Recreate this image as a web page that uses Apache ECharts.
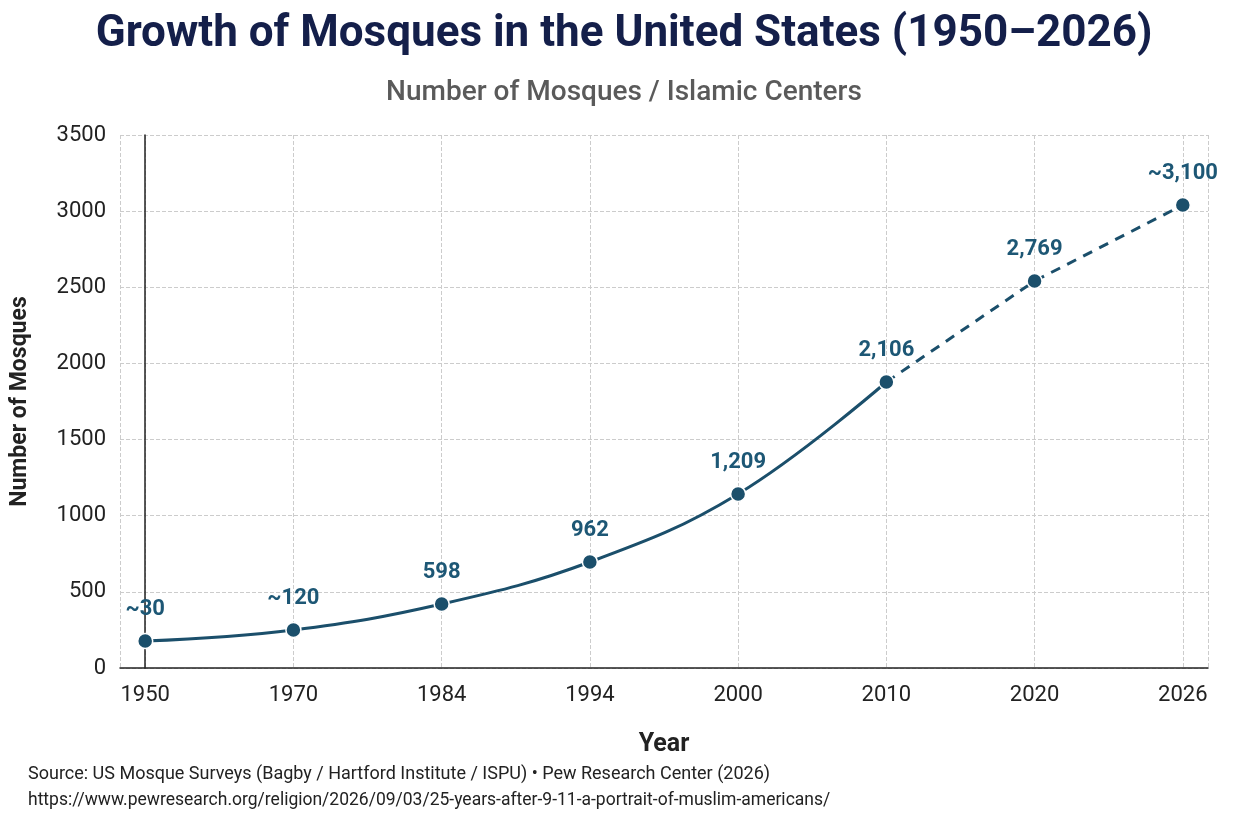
<!DOCTYPE html>
<html>
<head>
<meta charset="utf-8">
<script src="https://cdn.jsdelivr.net/npm/echarts@6/dist/echarts.min.js"></script>
<style>html,body{margin:0;padding:0;background:#fff;}#main{width:1248px;height:832px;}</style>
</head>
<body>
<div id="main"></div>
<script>
var years = ['1950','1970','1984','1994','2000','2010','2020','2026'];
var plotted = [177, 250, 420, 696, 1143, 1878, 2541, 3040];
var pointLabels = ['~30','~120','598','962','1,209','2,106','2,769','~3,100'];
var solidPart = [177, 250, 420, 696, 1143, 1878, null, null];
var dashedPart = [null, null, null, null, null, 1878, 2541, 3040];

function pairs(arr){
	var out = [];
	arr.forEach(function (v, i) { if (v !== null) out.push([i, v]); });
	return out;
}

var lineColor = '#1b4f6b', labelColor = '#1d5775';
var chart = echarts.init(document.getElementById('main'));
chart.setOption({
	animation: false,
	title: [
		{text: 'Growth of Mosques in the United States (1950\u20132026)', left: 'center', top: 8,
			textStyle: {fontSize: 44, fontWeight: 'bold', color: '#141f4a', fontFamily: 'Roboto'}},
		{text: 'Number of Mosques / Islamic Centers', left: 'center', top: 74,
			textStyle: {fontSize: 28, fontWeight: 500, color: '#5a5a5a', fontFamily: 'Roboto'}}
	],
	graphic: [
		{type: 'text', left: 28, top: 765, style: {text: 'Source: US Mosque Surveys (Bagby / Hartford Institute / ISPU) \u2022 Pew Research Center (2026)', fontSize: 18, fill: '#222', fontFamily: 'Roboto'}},
		{type: 'text', left: 28, top: 792, style: {text: 'https://www.pewresearch.org/religion/2026/09/03/25-years-after-9-11-a-portrait-of-muslim-americans/', fontSize: 17.5, fill: '#222', fontFamily: 'Roboto'}}
	],
	grid: {left: 120, right: 40, top: 135, bottom: 164},
	xAxis: {
		type: 'value', min: -0.17, max: 7.17, minInterval: 1, maxInterval: 1,
		name: 'Year', nameLocation: 'middle', nameGap: 64,
		nameTextStyle: {fontSize: 25, fontWeight: 'bold', color: '#222', fontFamily: 'Roboto'},
		axisLine: {lineStyle: {color: '#222', width: 1.5}},
		axisTick: {show: false},
		axisLabel: {fontSize: 22, color: '#222', margin: 16, fontFamily: 'Roboto', showMinLabel: false, showMaxLabel: false,
			formatter: function (v) { return Math.abs(v - Math.round(v)) < 1e-6 ? (years[Math.round(v)] || '') : ''; }},
		splitLine: {show: true, lineStyle: {type: 'dashed', color: '#ccc'}}
	},
	yAxis: {
		type: 'value', min: 0, max: 3500, interval: 500,
		name: 'Number of Mosques', nameLocation: 'middle', nameGap: 88,
		nameTextStyle: {fontSize: 23, fontWeight: 'bold', color: '#222', fontFamily: 'Roboto'},
		axisLine: {show: true, lineStyle: {color: '#222', width: 1.5}},
		axisTick: {show: false},
		axisLabel: {fontSize: 22, color: '#222', margin: 14, fontFamily: 'Roboto',
			formatter: function (v) { return String(v); }},
		splitLine: {lineStyle: {type: 'dashed', color: '#ccc'}}
	},
	series: [
		{type: 'line', data: pairs(solidPart), smooth: 0.4, symbol: 'none',
			lineStyle: {color: lineColor, width: 3}},
		{type: 'line', data: pairs(dashedPart), smooth: false, symbol: 'none',
			lineStyle: {color: lineColor, width: 3, type: [10, 8]}},
		{type: 'scatter', data: pairs(plotted), symbolSize: 15, z: 5,
			itemStyle: {color: lineColor, opacity: 1, borderColor: '#fff', borderWidth: 1.5},
			label: {show: true, position: 'top', distance: 12, fontSize: 22, fontWeight: 'bold',
				color: labelColor, fontFamily: 'Roboto',
				formatter: function (p) { return pointLabels[p.dataIndex]; }}}
	]
});
</script>
</body>
</html>
